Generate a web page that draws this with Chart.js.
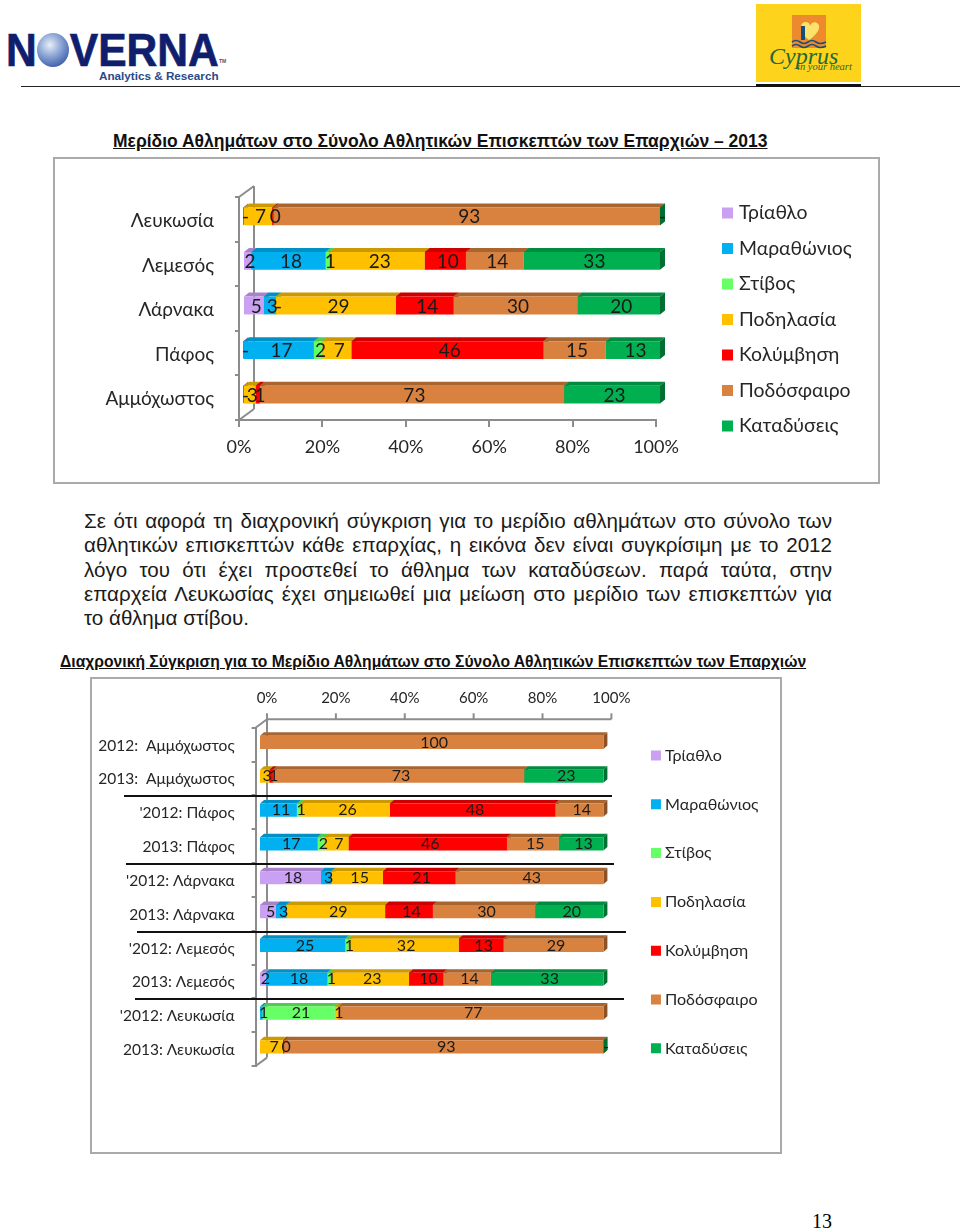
<!DOCTYPE html>
<html lang="el"><head><meta charset="utf-8">
<style>
html,body{margin:0;padding:0;background:#fff}
body{position:relative;width:960px;height:1230px;overflow:hidden;font-family:"Liberation Sans",Arial,sans-serif;color:#000}
.abs{position:absolute}
.frame{position:absolute;box-sizing:border-box;border:2px solid #aaa;background:#fff}
canvas{position:absolute}
.title{position:absolute;font-weight:bold;text-decoration:underline;white-space:nowrap;color:#111}
.pl{position:absolute;left:84px;width:748px;font-size:20.6px;line-height:24px;white-space:normal;text-align:justify;text-align-last:justify;color:#1a1a1a}
.pl.last{text-align-last:left}
.sep{position:absolute;height:2px;background:#111}
</style></head><body>
<div class="abs" style="left:37px;top:33px;width:32px;height:34px;border-radius:50%;background:radial-gradient(circle at 40% 35%,#e8eef8,#7f9bd0 45%,#2c4a9a 90%)"></div>
<div class="abs" style="left:6px;top:27px;font:bold 46px/46px 'Liberation Sans';color:#101e6e;-webkit-text-stroke:.7px #101e6e;transform:scaleX(.925);transform-origin:left;white-space:nowrap">N<span style="color:transparent;-webkit-text-stroke:0">O</span>VERNA</div>
<div class="abs" style="left:99px;top:69px;font:bold 11.7px 'Liberation Sans';color:#2a4a8a;white-space:nowrap">Analytics &amp; Research</div>
<div class="abs" style="left:219px;top:58px;font:bold 5px 'Liberation Sans';color:#555">TM</div>
<svg class="abs" style="left:756px;top:4px" width="105" height="78" viewBox="0 0 105 78">
<rect width="105" height="78" fill="#fdd31c"/>
<rect x="36" y="11" width="34" height="33" fill="#ec8a2d"/>
<path d="M53 36 C42 28 44 17 50 18 C53 18 54 21 54 22 C55 19 58 17 61 19 C66 22 62 30 53 36Z" fill="#fde36a"/>
<rect x="45" y="22" width="4" height="14" fill="#14507a"/>
<path d="M36 38 q4-3 8 0 t8 0 t8 0 t10 0 M36 42 q4-3 8 0 t8 0 t8 0 t10 0" stroke="#1b4f78" stroke-width="1.6" fill="none"/>
<text x="13" y="60" font-family="Liberation Serif" font-style="italic" font-size="24" fill="#1f6a3a">Cyprus</text>
<text x="41" y="66" font-family="Liberation Serif" font-style="italic" font-size="10.5" fill="#1f6a3a">in your heart</text>
</svg>
<div class="abs" style="left:21px;top:86px;width:939px;height:1px;background:#222"></div>
<div class="abs" style="left:756px;top:84px;width:105px;height:3px;background:#111"></div>
<div class="title" style="left:113px;top:131px;font-size:17.5px">Μερίδιο Αθλημάτων στο Σύνολο Αθλητικών Επισκεπτών των Επαρχιών – 2013</div>
<div class="frame" style="left:53px;top:157px;width:827px;height:327px"></div>
<canvas id="c1" width="827" height="327" style="left:53px;top:157px"></canvas>
<div class="pl" style="top:509px">Σε ότι αφορά τη διαχρονική σύγκριση για το μερίδιο αθλημάτων στο σύνολο των</div>
<div class="pl" style="top:533px">αθλητικών επισκεπτών κάθε επαρχίας, η εικόνα δεν είναι συγκρίσιμη με το 2012</div>
<div class="pl" style="top:558px">λόγο του ότι έχει προστεθεί το άθλημα των καταδύσεων. παρά ταύτα, στην</div>
<div class="pl" style="top:582px">επαρχεία Λευκωσίας έχει σημειωθεί μια μείωση στο μερίδιο των επισκεπτών για</div>
<div class="pl last" style="top:606px">το άθλημα στίβου.</div>
<div class="title" style="left:60px;top:653px;font-size:15.7px">Διαχρονική Σύγκριση για το Μερίδιο Αθλημάτων στο Σύνολο Αθλητικών Επισκεπτών των Επαρχιών</div>
<div class="frame" style="left:90px;top:677px;width:692px;height:477px"></div>
<canvas id="c2" width="692" height="477" style="left:90px;top:677px"></canvas>
<div class="sep" style="left:124px;top:795px;width:488px"></div>
<div class="sep" style="left:126px;top:863px;width:488px"></div>
<div class="sep" style="left:137px;top:931px;width:489px"></div>
<div class="sep" style="left:135px;top:998px;width:489px"></div>
<div class="abs" style="left:812px;top:1210px;font:20px 'Liberation Serif'">13</div>
<script src="https://cdn.jsdelivr.net/npm/chart.js@4/dist/chart.umd.min.js"></script>
<script>
const seriesNames=["Τρίαθλο","Μαραθώνιος","Στίβος","Ποδηλασία","Κολύμβηση","Ποδόσφαιρο","Καταδύσεις"];
const seriesColors=["#C9A0F2","#00B0F0","#66FF66","#FFC000","#FF0000","#D9823F","#00B050"];
const topColors=["#A883CC","#0090C4","#50CC50","#CC9A00","#CC0000","#A96530","#008C40"];
const sideColors=["#8A6BA8","#00729C","#3EA33E","#A37B00","#A30000","#8A5226","#006F32"];

// Chart 1: 2013 (null = no label, 0 = "-")
const categories1=["Λευκωσία","Λεμεσός","Λάρνακα","Πάφος","Αμμόχωστος"];
const triathlon1=[0,2,5,0,0];
const marathon1=[null,18,3,17,null];
const track1=[null,1,0,2,null];
const cycling1=[7,23,29,7,3];
const swimming1=[0.3,10,14,46,1];
const football1=[93,14,30,15,73];
const diving1=[0,33,20,13,23];

// Chart 2: 2012 vs 2013
const categories2=["2012:  Αμμόχωστος","2013:  Αμμόχωστος","'2012: Πάφος","2013: Πάφος","'2012: Λάρνακα","2013: Λάρνακα","'2012: Λεμεσός","2013: Λεμεσός","'2012: Λευκωσία","2013: Λευκωσία"];
const triathlon2=[null,null,null,null,18,5,null,2,null,null];
const marathon2=[null,null,11,17,3,3,25,18,1,null];
const track2=[null,null,1,2,null,null,1,1,21,null];
const cycling2=[null,3,26,7,15,29,32,23,1,7];
const swimming2=[null,1,48,46,21,14,13,10,null,0.3];
const football2=[100,73,14,15,43,30,29,14,77,93];
const diving2=[null,23,null,13,null,20,null,33,null,0];

const uiFont='Lato, "Open Sans", sans-serif';
const axisGray='#8c8c8c';

function normalised(rows){
  const n=rows[0].length, out=rows.map(()=>[]);
  for(let i=0;i<n;i++){
    let s=0; rows.forEach(r=>s+=r[i]||0);
    rows.forEach((r,k)=>out[k].push(r[i]===null?null:r[i]/s*100));
  }
  return out;
}

const bars3d={
  id:'bars3d',
  beforeDatasetsDraw(chart,a,o){
    const ctx=chart.ctx; ctx.save(); ctx.translate(o.dx,o.dy);
    chart.data.datasets.forEach((ds,di)=>{
      chart.getDatasetMeta(di).data.forEach((b,i)=>{
        if(ds.data[i]===null) return;
        const p=b.getProps(['x','y','base','height'],true);
        const t=p.y-p.height/2, bt=p.y+p.height/2;
        ctx.fillStyle=topColors[di];
        ctx.beginPath();ctx.moveTo(p.base,t);ctx.lineTo(p.base+o.depthX,t-o.depthY);ctx.lineTo(p.x+o.depthX,t-o.depthY);ctx.lineTo(p.x,t);ctx.closePath();ctx.fill();
        ctx.fillStyle=sideColors[di];
        ctx.beginPath();ctx.moveTo(p.x,t);ctx.lineTo(p.x+o.depthX,t-o.depthY);ctx.lineTo(p.x+o.depthX,bt-o.depthY);ctx.lineTo(p.x,bt);ctx.closePath();ctx.fill();
      });
    });
  },
  afterDatasetsDraw(chart,a,o){
    const ctx=chart.ctx;
    ctx.fillStyle='#1a1a1a';ctx.font=o.labelFont;ctx.textAlign='center';ctx.textBaseline='middle';
    chart.data.datasets.forEach((ds,di)=>{
      chart.getDatasetMeta(di).data.forEach((b,i)=>{
        const raw=ds.rawValues[i];
        if(raw===null) return;
        const p=b.getProps(['x','y','base'],true);
        ctx.fillText(raw===0?'-':String(Math.round(raw)),(p.x+p.base)/2+o.labelDx,p.y+o.labelDy);
      });
    });
    ctx.restore();
  }
};

const wall={
  id:'wall',
  beforeDatasetsDraw(chart,a,o){
    const {ctx,chartArea:c,scales}=chart;
    ctx.save();ctx.strokeStyle=axisGray;ctx.lineWidth=o.width;
    const l=(x1,y1,x2,y2)=>{ctx.beginPath();ctx.moveTo(x1,y1);ctx.lineTo(x2,y2);ctx.stroke();};
    l(c.left,c.top,c.left+o.wx,c.top-o.wy);
    l(c.left+o.wx,c.top-o.wy,c.left+o.wx,c.bottom-o.wy);
    l(c.left,c.bottom,c.left+o.wx,c.bottom-o.wy);
    if(o.topAxis){
      l(c.left+o.wx,c.top-o.wy,c.right+o.wx,c.top-o.wy);
      scales.x.ticks.forEach((t,i)=>{const x=scales.x.getPixelForTick(i)+o.wx;l(x,c.top-o.wy,x,c.top-o.wy-6);});
    }
    ctx.restore();
  }
};

const placeLegend={
  id:'placeLegend',
  afterLayout(chart,a,o){
    const L=chart.legend,w=L.width,h=L.height;
    L.left=o.x-o.pad;L.top=o.y;L.right=L.left+w;L.bottom=o.y+h;
  }
};

function build(id,opts){
  const rows=opts.rows, pct=normalised(rows);
  const chart=new Chart(document.getElementById(id),{
    type:'bar',
    data:{labels:opts.labels,datasets:seriesNames.map((n,k)=>({label:n,data:pct[k],rawValues:rows[k],backgroundColor:seriesColors[k],borderWidth:0}))},
    options:{
      indexAxis:'y',responsive:false,animation:false,
      barPercentage:opts.barPct,categoryPercentage:1,
      layout:{padding:{left:0,right:0,top:0,bottom:0}},
      plugins:{
        legend:{display:true,position:'right',align:'start',labels:{usePointStyle:true,pointStyle:'rect',boxWidth:opts.boxW,boxHeight:opts.box,padding:opts.legendPad,color:'#262626',font:{family:uiFont,size:opts.legendSize}}},
        tooltip:{enabled:false},
        placeLegend:{x:opts.legendX,y:opts.legendY,pad:opts.legendPad},
        bars3d:opts.bars3d,
        wall:opts.wall
      },
      scales:{
        x:{type:'linear',stacked:true,min:0,max:100,position:opts.xPos,
          border:{display:!opts.wall.topAxis,color:axisGray,width:2},
          grid:{display:true,drawOnChartArea:false,drawTicks:!opts.wall.topAxis,tickLength:7,color:axisGray,lineWidth:2},
          ticks:{stepSize:20,callback:v=>v+'%',color:'#262626',padding:opts.xPad,labelOffset:opts.xLabelOffset,maxRotation:0,font:{family:uiFont,size:opts.xSize}}},
        y:{type:'category',stacked:true,
          border:{display:true,color:axisGray,width:2},
          grid:{display:true,offset:true,drawOnChartArea:false,tickLength:4,color:axisGray,lineWidth:2},
          ticks:{color:'#262626',padding:opts.yPad,labelOffset:opts.yLabelOffset,autoSkip:false,font:{family:uiFont,size:opts.ySize}}}
      }
    },
    plugins:[wall,bars3d,placeLegend]
  });
  // settle the plot area onto the target rectangle
  for(let i=0;i<8;i++){
    const p=chart.options.layout.padding,c=chart.chartArea,t=opts.area;
    p.left+=t.left-c.left;p.top+=t.top-c.top;p.right+=c.right-t.right;p.bottom+=c.bottom-t.bottom;
    chart.update('none');
  }
  return chart;
}

build('c1',{
  rows:[triathlon1,marathon1,track1,cycling1,swimming1,football1,diving1],labels:categories1,
  area:{left:186,top:40,right:603,bottom:263},xPos:'bottom',barPct:.40,
  box:11,boxW:3.6,legendPad:16.1,legendSize:19.4,legendX:672.7,legendY:30.2,
  xPad:9,xSize:18,xLabelOffset:0,yPad:21,yLabelOffset:1.5,ySize:19,
  bars3d:{dx:4,dy:-3,depthX:5,depthY:4,labelFont:'19px '+uiFont,labelDx:2.5,labelDy:1},
  wall:{wx:15,wy:11,width:2,topAxis:false}
});
build('c2',{
  rows:[triathlon2,marathon2,track2,cycling2,swimming2,football2,diving2],labels:categories2,
  area:{left:165.6,top:50.7,right:510,bottom:389},xPos:'top',barPct:.39,
  box:10,boxW:1.9,legendPad:32.7,legendSize:16.1,legendX:565,legendY:37.75,
  xPad:21,xSize:15,xLabelOffset:11.4,yPad:17,yLabelOffset:1,ySize:15.5,
  bars3d:{dx:3.4,dy:-2.2,depthX:4,depthY:3.5,labelFont:'16px '+uiFont,labelDx:2.5,labelDy:0},
  wall:{wx:11.4,wy:8.4,width:2,topAxis:true}
});
</script>
</body></html>
